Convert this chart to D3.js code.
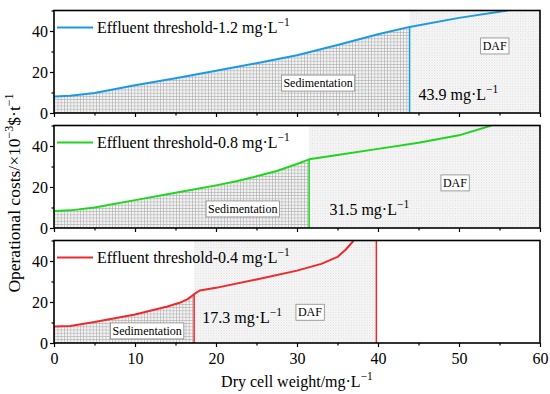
<!DOCTYPE html>
<html>
<head>
<meta charset="utf-8">
<script src="https://cdn.jsdelivr.net/npm/d3@7"></script>
<style>
  body { margin: 0; background: #fff; }
</style>
</head>
<body>
<svg id="chart" width="550" height="394"></svg>
<script>
// values
const xTicks = [0, 10, 20, 30, 40, 50, 60];
const yTicks = [0, 20, 40];
const thresholds = ["1.2", "0.8", "0.4"];
const colors = ["#1a9ae6", "#1fd61f", "#f0282d"];

const dcw1 = [0, 2, 5, 10, 15, 20, 25, 30, 35, 40, 43.9, 50, 56];
const cost1 = [8, 8.4, 9.8, 13.5, 17, 20.6, 24.3, 28.2, 33.2, 38.4, 42, 46.4, 50];

const dcw2 = [0, 2, 5, 10, 15, 20, 22.5, 25, 27.5, 30, 31.5, 35, 40, 45, 50, 54];
const cost2 = [8.3, 8.6, 10, 13.6, 17.2, 20.8, 22.8, 25.2, 27.8, 31.2, 33.5, 35.6, 38.6, 41.6, 45.2, 50];

const dcw3 = [0, 2, 5, 10, 14, 15.5, 16.5, 17.3, 18, 20, 25, 30, 33, 35, 36, 37];
const cost3 = [8, 8.3, 10.2, 13.9, 17.8, 19.6, 21.4, 23.8, 25.6, 26.9, 31, 35.3, 38.6, 42, 45.5, 50];

const cutoffs = [43.9, 31.5, 17.3];
const dafEnd = [60, 60, 39.8];

const svg = d3.select("#chart").style("font-family", "Liberation Serif");
const left = 54, right = 540;
const panelTops = [10.5, 125.5, 240.5];
const panelH = 102.5;
const serif = "Liberation Serif";
const fs = 16;

const x = d3.scaleLinear().domain([0, 60]).range([left, right]);

// hatch patterns
const defs = svg.append("defs");
const grid = defs.append("pattern").attr("id", "grid")
    .attr("patternUnits", "userSpaceOnUse").attr("width", 3.2).attr("height", 3.2);
grid.append("rect").attr("width", 3.2).attr("height", 3.2).attr("fill", "#f4f4f4");
grid.append("path").attr("d", "M0,0.3H3.2M0.3,0V3.2")
    .attr("stroke", "#b0b0b0").attr("stroke-width", 0.7);

const dots = defs.append("pattern").attr("id", "dots")
    .attr("patternUnits", "userSpaceOnUse").attr("width", 2.6).attr("height", 2.6);
dots.append("rect").attr("width", 2.6).attr("height", 2.6).attr("fill", "#f8f8f8");
dots.append("rect").attr("width", 0.8).attr("height", 0.8).attr("fill", "#cfcfcf");
dots.append("rect").attr("x", 1.3).attr("y", 1.3).attr("width", 0.8).attr("height", 0.8).attr("fill", "#dedede");

const series = [
  dcw1.map((d, i) => ({x: d, y: cost1[i]})),
  dcw2.map((d, i) => ({x: d, y: cost2[i]})),
  dcw3.map((d, i) => ({x: d, y: cost3[i]}))
];

// box label positions in data units [x, y]
const sedPos = [[32.6, 14.6], [23.3, 9.3], [11.5, 5.9]];
const dafPos = [[54.4, 32.7], [49.5, 22], [31.6, 15]];
const cutLabel = [[45, 6.3], [34, 6.5], [18.3, 10]];

function supText(sel, main, sup) {
  sel.append("tspan").text(main);
  sel.append("tspan").attr("dy", -7).attr("font-size", 11.5).text(sup);
}

series.forEach((data, k) => {
  const top = panelTops[k];
  const y = d3.scaleLinear().domain([0, 50]).range([top + panelH, top]);
  const g = svg.append("g");

  const clipId = "clip" + k;
  defs.append("clipPath").attr("id", clipId)
    .append("rect").attr("x", left).attr("y", top).attr("width", right - left).attr("height", panelH);

  const body = g.append("g").attr("clip-path", `url(#${clipId})`);

  // DAF region
  body.append("rect")
    .attr("x", x(cutoffs[k])).attr("y", y(50))
    .attr("width", x(dafEnd[k]) - x(cutoffs[k]))
    .attr("height", y(0) - y(50))
    .attr("fill", "url(#dots)");

  // sedimentation region
  const area = d3.area().x(d => x(d.x)).y0(y(0)).y1(d => y(d.y));
  body.append("path")
    .datum(data.filter(d => d.x <= cutoffs[k]))
    .attr("d", area)
    .attr("fill", "url(#grid)");

  const c = colors[k];
  const line = d3.line().x(d => x(d.x)).y(d => y(d.y));
  body.append("path").datum(data).attr("d", line)
    .attr("fill", "none").attr("stroke", c).attr("stroke-width", 2)
    .attr("stroke-linejoin", "round");

  // start vertical and cutoff line
  const cutVal = data.find(d => d.x === cutoffs[k]).y;
  body.append("line").attr("x1", x(0)).attr("x2", x(0)).attr("y1", y(0)).attr("y2", y(data[0].y))
    .attr("stroke", c).attr("stroke-width", 1.5);
  body.append("line").attr("x1", x(cutoffs[k])).attr("x2", x(cutoffs[k]))
    .attr("y1", y(0)).attr("y2", y(cutVal))
    .attr("stroke", c).attr("stroke-width", 1.5);
  if (dafEnd[k] < 60) {
    body.append("line").attr("x1", x(dafEnd[k])).attr("x2", x(dafEnd[k]))
      .attr("y1", y(0)).attr("y2", y(50))
      .attr("stroke", c).attr("stroke-width", 1.5);
  }

  // boxed labels
  [["Sedimentation", sedPos[k]], ["DAF", dafPos[k]]].forEach(([txt, p]) => {
    const t = g.append("text").attr("x", x(p[0])).attr("y", y(p[1]))
      .attr("text-anchor", "middle").attr("dominant-baseline", "central")
      .style("font-family", serif).attr("font-size", 12).text(txt);
    const bb = t.node().getBBox();
    g.insert("rect", () => t.node())
      .attr("x", bb.x - 2).attr("y", bb.y - 1)
      .attr("width", bb.width + 4).attr("height", bb.height + 2)
      .attr("fill", "#fff").attr("stroke", "#888").attr("stroke-width", 0.8);
  });

  // cutoff value label
  const cl = g.append("text").attr("x", x(cutLabel[k][0])).attr("y", y(cutLabel[k][1]))
    .style("font-family", serif).attr("font-size", fs);
  supText(cl, cutoffs[k].toFixed(1) + " mg·L", "−1");

  // legend
  g.append("line").attr("x1", 57).attr("x2", 93).attr("y1", top + 17).attr("y2", top + 17)
    .attr("stroke", c).attr("stroke-width", 2);
  const lg = g.append("text").attr("x", 97).attr("y", top + 22)
    .style("font-family", serif).attr("font-size", fs);
  supText(lg, "Effluent threshold-" + thresholds[k] + " mg·L", "−1");

  // axes
  const yAxis = d3.axisLeft(y).tickValues(d3.range(0, 51, 10)).tickSize(4)
    .tickFormat(d => yTicks.includes(d) ? d : "");
  const ya = g.append("g").attr("transform", `translate(${left},0)`).call(yAxis);
  ya.selectAll(".tick line").attr("stroke-width", 1.2)
    .attr("x2", d => yTicks.includes(d) ? -4 : -2.5);
  ya.selectAll("text").style("font-family", serif).attr("font-size", fs).attr("x", -6);
  ya.select(".domain").remove();

  const xAxis = d3.axisBottom(x).tickValues(d3.range(0, 61, 5)).tickSize(4)
    .tickFormat(d => (k === 2 && xTicks.includes(d)) ? d : "");
  const xa = g.append("g").attr("transform", `translate(0,${top + panelH})`).call(xAxis);
  xa.selectAll(".tick line").attr("stroke-width", 1.2)
    .attr("y2", d => xTicks.includes(d) ? 4 : 2.5);
  xa.selectAll("text").style("font-family", serif).attr("font-size", fs).attr("dy", "0.9em");
  xa.select(".domain").remove();

  // frame
  g.append("rect").attr("x", left).attr("y", top).attr("width", right - left).attr("height", panelH)
    .attr("fill", "none").attr("stroke", "#000").attr("stroke-width", 1.6);
});

// axis titles
const xt = svg.append("text").attr("x", 297).attr("y", 387).attr("text-anchor", "middle")
  .style("font-family", serif).attr("font-size", fs);
supText(xt, "Dry cell weight/mg·L", "−1");

const yt = svg.append("text").attr("transform", "translate(20,193) rotate(-90)")
  .attr("text-anchor", "middle").style("font-family", serif).attr("font-size", 17.5);
yt.append("tspan").text("Operational costs/×10");
yt.append("tspan").attr("dy", -7).attr("font-size", 12).text("−3");
yt.append("tspan").attr("dy", 7).text("$·t");
yt.append("tspan").attr("dy", -7).attr("font-size", 12).text("−1");
</script>
</body>
</html>
